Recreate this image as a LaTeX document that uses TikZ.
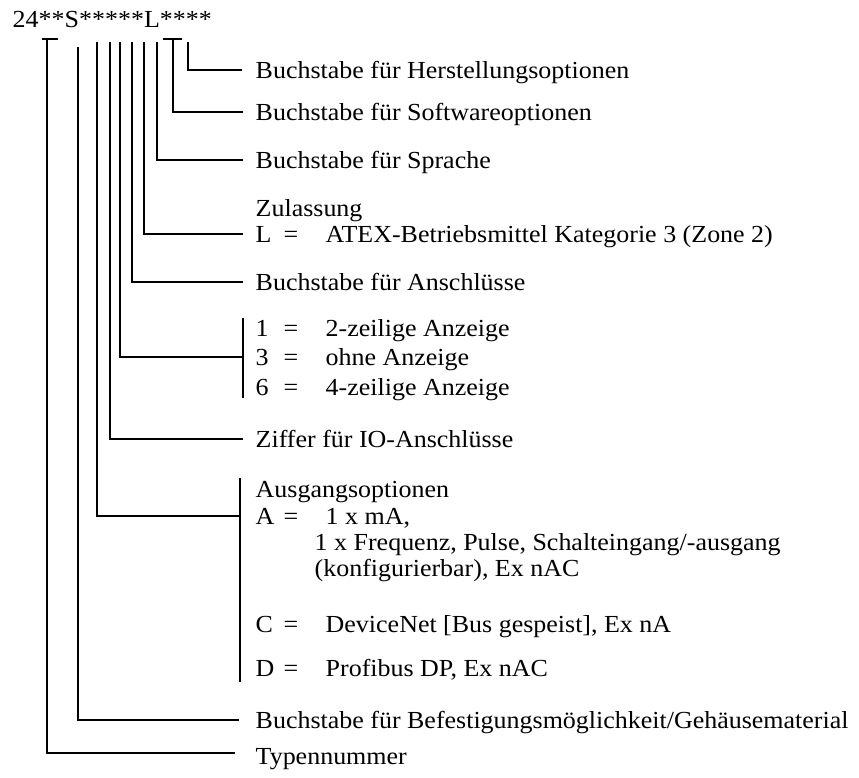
\documentclass[tikz,border=0pt]{standalone}
\usepackage{fontspec}
\setmainfont[FakeStretch=1.06]{Liberation Serif}
\begin{document}
\begin{tikzpicture}[x=1pt,y=-1pt,line width=1.4pt,
  lab/.style={anchor=base west,inner sep=0pt,font=\fontsize{24.5}{30}\selectfont},
  sym/.style={anchor=base,inner sep=0pt,font=\fontsize{24.5}{30}\selectfont}]
\useasboundingbox (0,0) rectangle (859,777);
\node[lab] (code) at (12,27) {24**S*****L****};

% 10: Herstellungsoptionen
\coordinate (t10) at (188,42); \coordinate (e10) at (242,70);
\draw (t10) |- (e10);
\node[lab] (l10) at (255,78) {Buchstabe für Herstellungsoptionen};

% 9: Softwareoptionen
\coordinate (b9a) at (163,39); \coordinate (b9b) at (182,39);
\coordinate (t9) at (173,39); \coordinate (e9) at (243,112);
\draw (b9a) -- (b9b);
\draw (t9) |- (e9);
\node[lab] (l9) at (255,120) {Buchstabe für Softwareoptionen};

% 8: Sprache
\coordinate (t8) at (157,42); \coordinate (e8) at (243,160);
\draw (t8) |- (e8);
\node[lab] (l8) at (255,168) {Buchstabe für Sprache};

% 7: Zulassung
\coordinate (t7) at (144,42); \coordinate (e7) at (243,234);
\draw (t7) |- (e7);
\node[lab] (l7) at (255,216) {Zulassung};
\node[lab] (l7a) at (255,242) {L};
\node[sym] (l7b) at (291,242) {=};
\node[lab] (l7c) at (325,242) {ATEX-Betriebsmittel Kategorie 3 (Zone 2)};

% 6: Anschluesse
\coordinate (t6) at (132,42); \coordinate (e6) at (243,282);
\draw (t6) |- (e6);
\node[lab] (l6) at (255,290) {Buchstabe für Anschlüsse};

% 5: Anzeige
\coordinate (t5) at (120,42); \coordinate (e5) at (243,357);
\coordinate (k5a) at (243,318); \coordinate (k5b) at (243,398);
\draw (t5) |- (e5);
\draw (k5a) -- (k5b);
\node[lab] (l5a) at (255,336) {1};
\node[sym] at (291,336) {=};
\node[lab] at (325,336) {2-zeilige Anzeige};
\node[lab] (l5b) at (255,365) {3};
\node[sym] at (291,365) {=};
\node[lab] at (325,365) {ohne Anzeige};
\node[lab] (l5c) at (255,395) {6};
\node[sym] at (291,395) {=};
\node[lab] at (325,395) {4-zeilige Anzeige};

% 4: IO
\coordinate (t4) at (110,42); \coordinate (e4) at (243,439);
\draw (t4) |- (e4);
\node[lab] (l4) at (255,447) {Ziffer für IO-Anschlüsse};

% 3: Ausgangsoptionen
\coordinate (t3) at (97,42); \coordinate (e3) at (240,516);
\coordinate (k3a) at (240,478); \coordinate (k3b) at (240,682);
\draw (t3) |- (e3);
\draw (k3a) -- (k3b);
\node[lab] (l3) at (255,497) {Ausgangsoptionen};
\node[lab] (l3a) at (255,524) {A};
\node[sym] at (291,524) {=};
\node[lab] at (325,524) {1 x mA,};
\node[lab] at (314,550) {1 x Frequenz, Pulse, Schalteingang/-ausgang};
\node[lab] at (314,576) {(konfigurierbar), Ex nAC};
\node[lab] (l3c) at (255,632) {C};
\node[sym] at (291,632) {=};
\node[lab] at (325,632) {DeviceNet [Bus gespeist], Ex nA};
\node[lab] (l3d) at (255,676) {D};
\node[sym] at (291,676) {=};
\node[lab] at (325,676) {Profibus DP, Ex nAC};

% 2: Befestigung
\coordinate (t2) at (78,47); \coordinate (e2) at (239,720);
\draw (t2) |- (e2);
\node[lab] (l2) at (255,728) {Buchstabe für Befestigungsmöglichkeit/Gehäusematerial};

% 1: Typennummer
\coordinate (b1a) at (42,39); \coordinate (b1b) at (58,39);
\coordinate (t1) at (47,39); \coordinate (e1) at (235,753);
\draw (b1a) -- (b1b);
\draw (t1) |- (e1);
\node[lab] (l1) at (255,764) {Typennummer};
\end{tikzpicture}
\end{document}
